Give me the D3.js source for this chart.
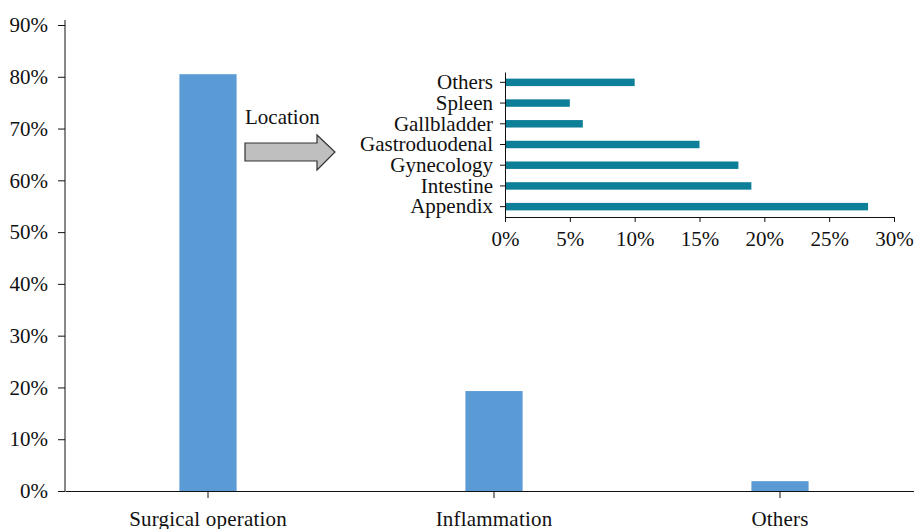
<!DOCTYPE html>
<html>
<head>
<meta charset="utf-8">
<script src="https://cdn.jsdelivr.net/npm/d3@7"></script>
<style>
    body { margin: 0; background: #fff; }
    text { font-family: "Liberation Serif", "DejaVu Serif", serif; fill: #111; }
    .domain, .tick line { stroke: #111; }
</style>
</head>
<body>
<div id="chart"></div>
<script>
// main chart data
var causes = ["Surgical operation", "Inflammation", "Others"];
var causeShare = [0.805, 0.193, 0.019];
var mainTicks = [0, 0.1, 0.2, 0.3, 0.4, 0.5, 0.6, 0.7, 0.8, 0.9];

// inset chart data (location of surgical cases)
var locations = ["Appendix", "Intestine", "Gynecology", "Gastroduodenal", "Gallbladder", "Spleen", "Others"];
var locationShare = [0.28, 0.19, 0.18, 0.15, 0.06, 0.05, 0.10];
var insetTicks = [0, 0.05, 0.1, 0.15, 0.2, 0.25, 0.3];

var svgWidth = 914;
var svgHeight = 529;
var fontSize = "21px";

var svg = d3.select("#chart")
    .append("svg")
    .attr("width", svgWidth)
    .attr("height", svgHeight);

var pct = d3.format(".0%");

// main scales
var xScale = d3.scaleBand()
    .domain(causes)
    .range([65, 923])
    .paddingInner(0)
    .paddingOuter(0);

var yScale = d3.scaleLinear()
    .domain([0, 0.9])
    .range([491, 25]);

// bars
svg.selectAll("rect.main")
    .data(causes)
    .enter()
    .append("rect")
    .attr("class", "main")
    .attr("x", d => xScale(d) + xScale.bandwidth() * 0.4)
    .attr("width", xScale.bandwidth() * 0.2)
    .attr("y", (d, i) => yScale(causeShare[i]))
    .attr("height", (d, i) => yScale(0) - yScale(causeShare[i]))
    .attr("fill", "#5b9bd5");

// y axis
var leftAxis = d3.axisLeft(yScale)
    .tickValues(mainTicks)
    .tickFormat(pct)
    .tickSize(7)
    .tickPadding(10);

var yAxis = svg.append("g")
    .attr("transform", "translate(65,0)")
    .call(leftAxis);
yAxis.select(".domain").remove();
yAxis.selectAll("text").style("font-size", fontSize);

// vertical axis line runs a bit above the top tick
svg.append("line")
    .attr("x1", 65).attr("x2", 65)
    .attr("y1", 20).attr("y2", yScale(0))
    .attr("stroke", "#111");

// x axis
var bottomAxis = d3.axisBottom(xScale)
    .tickSizeInner(7)
    .tickSizeOuter(0)
    .tickPadding(13);

var xAxis = svg.append("g")
    .attr("transform", `translate(0,${yScale(0)})`)
    .call(bottomAxis);
xAxis.selectAll("text").style("font-size", fontSize).style("letter-spacing", "0.2px");

// inset chart: horizontal bars
var insetX = d3.scaleLinear()
    .domain([0, 0.3])
    .range([505, 894]);

var insetY = d3.scaleBand()
    .domain(locations)
    .range([217, 72])
    .paddingInner(0.64)
    .paddingOuter(0.32);

svg.selectAll("rect.inset")
    .data(locations)
    .enter()
    .append("rect")
    .attr("class", "inset")
    .attr("x", insetX(0))
    .attr("y", d => insetY(d))
    .attr("height", insetY.bandwidth())
    .attr("width", (d, i) => insetX(locationShare[i]) - insetX(0))
    .attr("fill", "#0e7f98");

var insetLeft = d3.axisLeft(insetY)
    .tickSizeInner(5)
    .tickSizeOuter(0)
    .tickPadding(7);

var insetYAxis = svg.append("g")
    .attr("transform", `translate(${insetX(0)},0)`)
    .call(insetLeft);
insetYAxis.selectAll("text").style("font-size", fontSize);

var insetBottom = d3.axisBottom(insetX)
    .tickValues(insetTicks)
    .tickFormat(pct)
    .tickSizeInner(5)
    .tickSizeOuter(0)
    .tickPadding(9);

var insetXAxis = svg.append("g")
    .attr("transform", "translate(0,217)")
    .call(insetBottom);
insetXAxis.selectAll("text").style("font-size", fontSize);

// arrow + label pointing at the inset
svg.append("text")
    .attr("x", 245)
    .attr("y", 124)
    .style("font-size", fontSize)
    .text("Location");

var arrowPts = [[245, 143], [317, 143], [317, 135], [335, 152], [317, 170], [317, 161], [245, 161]];
svg.append("path")
    .attr("d", d3.line()(arrowPts) + "Z")
    .attr("fill", "#bfbfbf")
    .attr("stroke", "#333")
    .attr("stroke-width", 1.2);
</script>
</body>
</html>
